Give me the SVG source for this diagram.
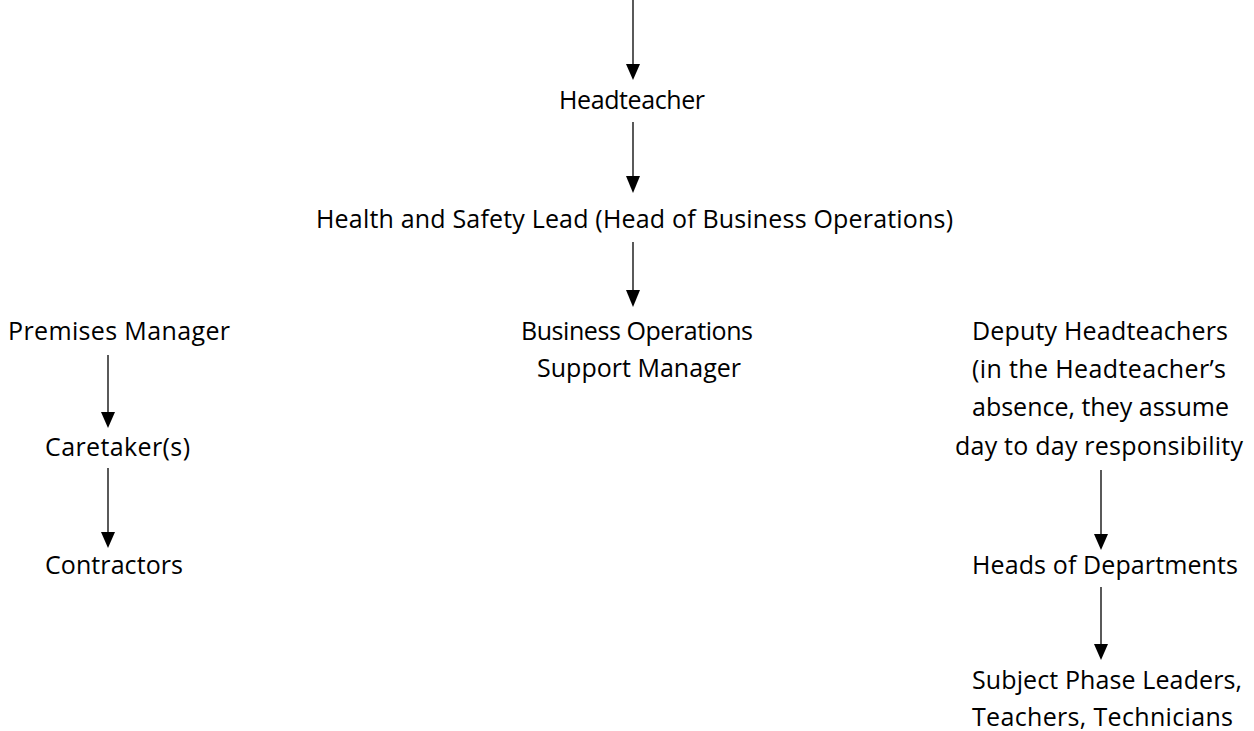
<svg xmlns="http://www.w3.org/2000/svg" width="1254" height="731" viewBox="0 0 1254 731">
<style>
text{font-family:"Open Sans","Noto Sans","Liberation Sans",sans-serif;font-size:25px;fill:#000;text-anchor:middle}
.c line{stroke:#000;stroke-width:1.3}
.c path{fill:#000}
</style>
<rect width="1254" height="731" fill="#fff"/>
<g class="c" id="connectors">
<line x1="633" y1="0" x2="633" y2="64"/>
<line x1="633" y1="122" x2="633" y2="176"/>
<line x1="633" y1="242" x2="633" y2="290"/>
<line x1="108" y1="355" x2="108" y2="412"/>
<line x1="108" y1="468" x2="108" y2="532"/>
<line x1="1101" y1="470" x2="1101" y2="534"/>
<line x1="1101" y1="587" x2="1101" y2="644"/>
<path d="M626,64 L640,64 L633,80 Z"/>
<path d="M626,176 L640,176 L633,193 Z"/>
<path d="M626,290 L640,290 L633,307 Z"/>
<path d="M101,412 L115,412 L108,428 Z"/>
<path d="M101,532 L115,532 L108,548 Z"/>
<path d="M1094,534 L1108,534 L1101,550 Z"/>
<path d="M1094,644 L1108,644 L1101,660 Z"/>
</g>
<g id="headteacher"><text x="632" y="109" textLength="146" lengthAdjust="spacing">Headteacher</text></g>
<g id="hs-lead"><text x="634.5" y="228" textLength="637" lengthAdjust="spacing">Health and Safety Lead (Head of Business Operations)</text></g>
<g id="bosm">
<text x="637" y="340" textLength="232" lengthAdjust="spacing">Business Operations</text>
<text x="639" y="377" textLength="204" lengthAdjust="spacing">Support Manager</text>
</g>
<g id="premises"><text x="119" y="340" textLength="222" lengthAdjust="spacing">Premises Manager</text></g>
<g id="caretaker"><text x="117.5" y="456" textLength="145" lengthAdjust="spacing">Caretaker(s)</text></g>
<g id="contractors"><text x="114" y="574" textLength="138" lengthAdjust="spacing">Contractors</text></g>
<g id="deputy">
<text x="1100" y="340" textLength="256" lengthAdjust="spacing">Deputy Headteachers</text>
<text x="1099" y="378" textLength="254" lengthAdjust="spacing">(in the Headteacher’s</text>
<text x="1100.5" y="416" textLength="257" lengthAdjust="spacing">absence, they assume</text>
<text x="1099" y="455" textLength="288" lengthAdjust="spacing">day to day responsibility</text>
</g>
<g id="heads"><text x="1105" y="574" textLength="266" lengthAdjust="spacing">Heads of Departments</text></g>
<g id="subject">
<text x="1107" y="689" textLength="270" lengthAdjust="spacing">Subject Phase Leaders,</text>
<text x="1102.5" y="726" textLength="261" lengthAdjust="spacing">Teachers, Technicians</text>
</g>
</svg>
